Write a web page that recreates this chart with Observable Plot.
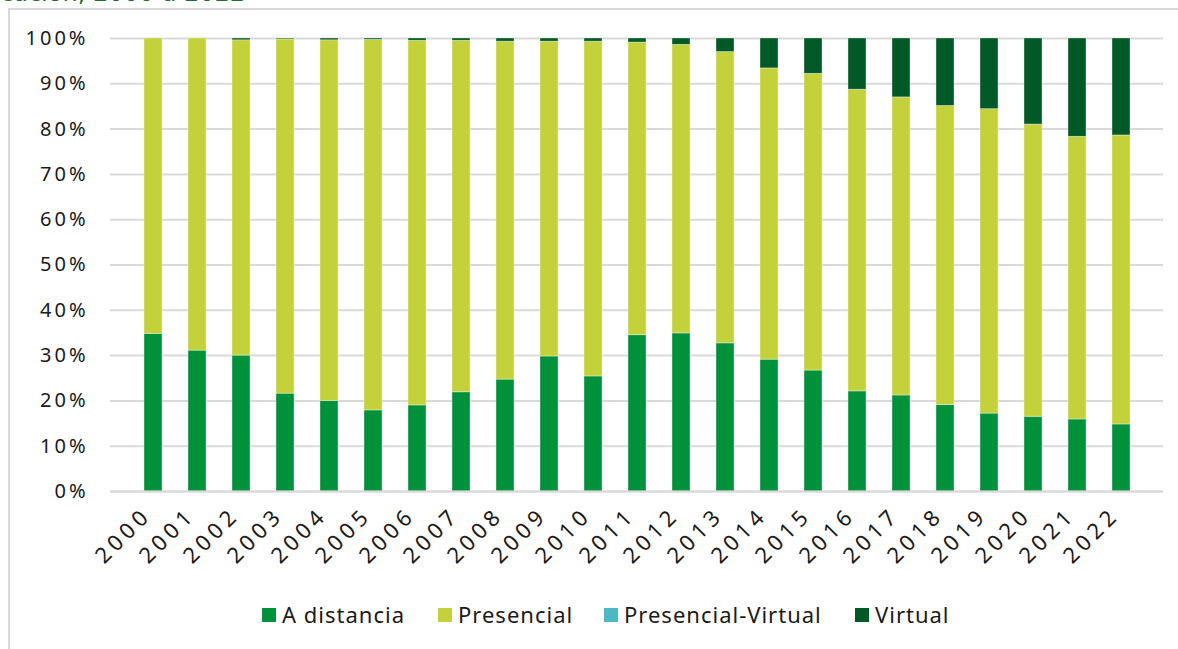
<!DOCTYPE html>
<html>
<head>
<meta charset="utf-8">
<script src="https://cdn.jsdelivr.net/npm/d3@7"></script>
<script src="https://cdn.jsdelivr.net/npm/@observablehq/plot@0.6"></script>
<style>
  html, body { margin: 0; padding: 0; background: #ffffff; }
  body { width: 1178px; height: 649px; position: relative; overflow: hidden; font-family: "Noto Sans", sans-serif; }
  #title { position: absolute; left: 0; top: -21px; font-family: "DejaVu Sans", sans-serif; font-size: 24px; color: #1d6e30; white-space: nowrap; }
  #frame { position: absolute; left: 8px; top: 8px; width: 1200px; height: 640px; border-left: 2px solid #d9d9d9; border-top: 2px solid #d9d9d9; }
  #chart { position: absolute; left: 0; top: 0; }
  .lg { position: absolute; top: 600px; font-size: 22px; letter-spacing: 1px; color: #1a1a1a; line-height: 28px; white-space: nowrap; }
  .sw { position: absolute; top: 608px; width: 14px; height: 14px; }
</style>
</head>
<body>
<div id="title">cación, 2000 a 2022</div>
<div id="frame"></div>
<div id="chart"></div>
<div id="legend"></div>
<script>
const years = ["2000","2001","2002","2003","2004","2005","2006","2007","2008","2009","2010","2011","2012","2013","2014","2015","2016","2017","2018","2019","2020","2021","2022"];
const series = ["A distancia", "Presencial", "Presencial-Virtual", "Virtual"];
const colors = ["#00913b", "#c3d13a", "#4bb8c4", "#005926"];
const aDistancia = [34.8,31.1,30.0,21.6,20.0,17.9,19.0,21.9,24.7,29.8,25.4,34.5,34.9,32.7,29.1,26.7,22.1,21.2,19.1,17.2,16.5,15.9,14.8];
const presencial = [65.2,68.9,69.6,78.2,79.6,81.8,80.5,77.6,74.6,69.5,73.9,64.6,63.7,64.3,64.3,65.5,66.6,65.8,66.0,67.2,64.5,62.4,63.8];
const presencialVirtual = [0,0,0,0,0,0,0,0,0,0,0,0,0,0,0,0,0,0,0,0,0,0,0];
const virtual = [0,0,0.4,0.2,0.4,0.3,0.5,0.5,0.7,0.7,0.7,0.9,1.4,3.0,6.6,7.8,11.3,13.0,14.9,15.6,19.0,21.7,21.4];
const yTicks = [0,10,20,30,40,50,60,70,80,90,100];

const valuesBySeries = [aDistancia, presencial, presencialVirtual, virtual];
const data = [];
series.forEach((s, i) => years.forEach((y, j) => data.push({year: y, series: s, value: valuesBySeries[i][j]})));

const chart = Plot.plot({
  width: 1178,
  height: 600,
  marginLeft: 110,
  marginRight: 15,
  marginTop: 38,
  marginBottom: 109,
  style: { fontFamily: "Noto Sans, sans-serif", fontSize: "20px", color: "#1a1a1a", background: "transparent" },
  x: { domain: years, padding: 0.6, label: null },
  y: { domain: [0, 100], label: null },
  color: { domain: series, range: colors },
  marks: [
    Plot.gridY(yTicks, { stroke: "#d9d9d9", strokeOpacity: 1, strokeWidth: 2 }),
    Plot.barY(data, { x: "year", y: "value", fill: "series", order: series, stroke: "#ffffff", strokeOpacity: 0.45, strokeWidth: 0.8 }),
    Plot.axisY(yTicks, { tickSize: 0, tickPadding: 22, tickFormat: d => d + "%", fontSize: 20 }),
    Plot.axisX({ tickSize: 0, tickPadding: 20, tickRotate: -45, fontSize: 22, dx: -6 }),
    Plot.ruleY([0], { stroke: "#d9d9d9", strokeWidth: 2 })
  ]
});
chart.querySelectorAll("g[aria-label='y-axis tick label'] text").forEach(t => t.style.letterSpacing = "3px");
chart.querySelectorAll("g[aria-label='x-axis tick label'] text").forEach(t => t.style.letterSpacing = "4.5px");
document.getElementById("chart").appendChild(chart);

const legendPos = [[262, 282], [438, 458], [604, 624], [855, 875]];
const lg = document.getElementById("legend");
series.forEach((s, i) => {
  const sw = document.createElement("div");
  sw.className = "sw";
  sw.style.left = legendPos[i][0] + "px";
  sw.style.background = colors[i];
  lg.appendChild(sw);
  const tx = document.createElement("div");
  tx.className = "lg";
  tx.style.left = legendPos[i][1] + "px";
  tx.textContent = s;
  lg.appendChild(tx);
});
</script>
</body>
</html>
